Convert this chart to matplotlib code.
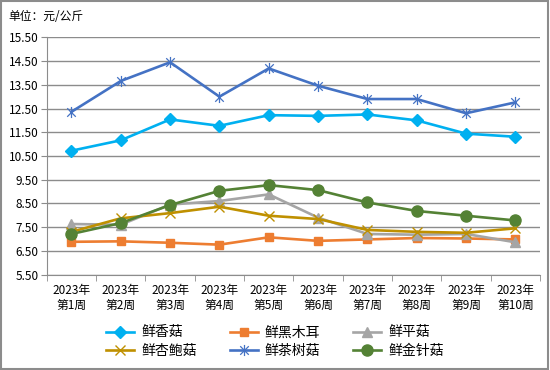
import matplotlib.pyplot as plt
import numpy as np
from matplotlib.path import Path
from matplotlib.patches import Rectangle

plt.rcParams['font.family'] = ['Noto Sans CJK SC', 'DejaVu Sans']

# data
weeks = ['2023年\n第%d周' % i for i in range(1, 11)]
xianggu = [10.72, 11.16, 12.04, 11.77, 12.22, 12.19, 12.25, 12.00, 11.44, 11.31]
heimuer = [6.88, 6.90, 6.84, 6.76, 7.07, 6.92, 6.98, 7.04, 7.02, 6.98]
pinggu = [7.63, 7.60, 8.45, 8.60, 8.88, 7.90, 7.21, 7.18, 7.21, 6.86]
xingbaogu = [7.30, 7.87, 8.09, 8.36, 7.98, 7.84, 7.38, 7.30, 7.26, 7.45]
chashugu = [12.36, 13.66, 14.45, 13.00, 14.19, 13.46, 12.90, 12.90, 12.30, 12.76]
jinzhengu = [7.21, 7.67, 8.43, 9.03, 9.27, 9.06, 8.54, 8.18, 7.98, 7.78]

# Excel style asterisk marker: an x with a vertical bar
star = Path([(-1, -1), (1, 1), (-1, 1), (1, -1), (0, -1.3), (0, 1.3)],
            [Path.MOVETO, Path.LINETO, Path.MOVETO, Path.LINETO, Path.MOVETO, Path.LINETO])

fig = plt.figure(figsize=(5.5, 3.7), dpi=100)
ax = fig.add_axes([0.085, 0.258, 0.897, 0.641])
x = np.arange(len(weeks))
lw = 1.9

h1, = ax.plot(x, xianggu, color='#00B0F0', lw=lw, marker='D', ms=6.5, label='鲜香菇')
h2, = ax.plot(x, heimuer, color='#ED7D31', lw=lw, marker='s', ms=5.5, label='鲜黑木耳')
h3, = ax.plot(x, pinggu, color='#A5A5A5', lw=lw, marker='^', ms=7, label='鲜平菇')
h4, = ax.plot(x, xingbaogu, color='#BF9000', lw=lw, marker='x', ms=7, mew=1.0, label='鲜杏鲍菇')
h5, = ax.plot(x, chashugu, color='#4472C4', lw=lw, marker=star, ms=8, mew=0.9, label='鲜茶树菇')
h6, = ax.plot(x, jinzhengu, color='#548235', lw=lw, marker='o', ms=8, label='鲜金针菇')

ax.set_ylim(5.5, 15.5)
ax.set_yticks(np.arange(5.5, 15.6, 1.0))
ax.set_yticklabels(['%.2f' % v for v in np.arange(5.5, 15.6, 1.0)])
ax.yaxis.grid(True, color='#8c8c8c', lw=1.0)
ax.set_axisbelow(True)

ax.set_xlim(-0.5, 9.5)
ax.set_xticks(x)
ax.set_xticklabels(weeks, linespacing=1.15)
ax.set_xticks(np.arange(-0.5, 10, 1.0), minor=True)
ax.tick_params(axis='x', which='major', length=0, pad=7, labelsize=8.5)
ax.tick_params(axis='x', which='minor', length=4, color='#8c8c8c')
ax.tick_params(axis='y', length=4, color='#8c8c8c', labelsize=8.5, pad=2)

for s in ['top', 'right']:
    ax.spines[s].set_visible(False)
for s in ['left', 'bottom']:
    ax.spines[s].set_color('#8c8c8c')

fig.text(0.015, 0.955, '单位：元/公斤', fontsize=8.5, va='center')

handles = [h1, h4, h2, h5, h3, h6]
fig.legend(handles=handles, labels=[h.get_label() for h in handles], ncol=3,
           loc='center', bbox_to_anchor=(0.5, 0.077), frameon=False, fontsize=10,
           handlelength=2.0, columnspacing=2.4, labelspacing=0.3, handletextpad=0.5)

fig.patches.append(Rectangle((0.002, 0.003), 0.995, 0.993, transform=fig.transFigure,
                             fill=False, edgecolor='#8c8c8c', lw=1.5))

fig.savefig('out.png', dpi=100)
